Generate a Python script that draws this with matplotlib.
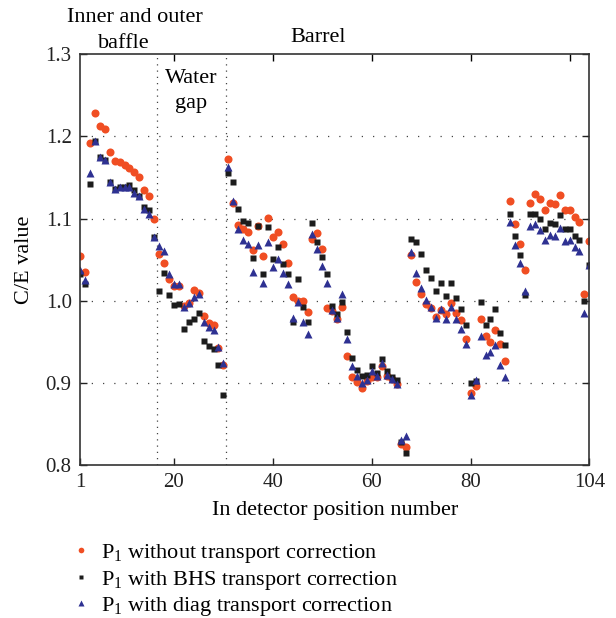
import numpy as np
import matplotlib
matplotlib.use('Agg')
import matplotlib.pyplot as plt

plt.rcParams['font.family'] = ['Liberation Serif', 'DejaVu Serif']
plt.rcParams['mathtext.fontset'] = 'custom'
plt.rcParams['mathtext.rm'] = 'Liberation Serif'

# detector position 1..104
pos = np.arange(1, 105)

# P1 without transport correction
c_e_none = [1.054, 1.035, 1.192, 1.228, 1.213, 1.209, 1.181, 1.170, 1.169, 1.165,
            1.162, 1.157, 1.151, 1.135, 1.127, 1.100, 1.057, 1.046, 1.027, 1.018,
            1.018, 0.994, 0.997, 1.013, 1.009, 0.981, 0.973, 0.970, 0.943, 0.922,
            1.173, 1.119, 1.092, 1.087, 1.084, 1.062, 1.091, 1.054, 1.101, 1.077,
            1.084, 1.069, 1.046, 1.004, 1.000, 1.000, 0.986, 1.075, 1.083, 1.063,
            0.991, 0.988, 0.978, 0.992, 0.933, 0.907, 0.901, 0.894, 0.902, 0.907,
            0.907, 0.921, 0.908, 0.905, 0.899, 0.826, 0.822, 1.056, 1.023, 1.008,
            0.996, 0.991, 0.980, 0.989, 0.984, 0.997, 0.985, 0.976, 0.953, 0.888,
            0.896, 0.978, 0.957, 0.950, 0.964, 0.947, 0.926, 1.121, 1.094, 1.069,
            1.038, 1.119, 1.130, 1.124, 1.111, 1.119, 1.118, 1.129, 1.111, 1.111,
            1.102, 1.096, 1.008, 1.073]

# P1 with BHS transport correction
c_e_bhs = [1.033, 1.020, 1.142, 1.194, 1.175, 1.171, 1.144, 1.136, 1.138, 1.138,
           1.141, 1.135, 1.127, 1.114, 1.110, 1.078, 1.012, 1.034, 1.007, 0.995,
           0.996, 0.966, 0.974, 0.978, 0.985, 0.951, 0.945, 0.941, 0.922, 0.885,
           1.156, 1.145, 1.112, 1.097, 1.095, 1.052, 1.091, 1.033, 1.090, 1.051,
           1.065, 1.045, 1.033, 0.974, 1.026, 0.992, 0.974, 1.095, 1.072, 1.053,
           1.033, 0.994, 0.984, 0.999, 0.962, 0.930, 0.916, 0.908, 0.910, 0.920,
           0.912, 0.929, 0.914, 0.907, 0.903, 0.828, 0.815, 1.075, 1.071, 1.057,
           1.038, 1.028, 1.012, 1.021, 1.006, 1.021, 1.003, 0.990, 0.970, 0.900,
           0.902, 0.999, 0.971, 0.978, 0.990, 0.961, 0.946, 1.106, 1.079, 1.056,
           1.007, 1.105, 1.106, 1.099, 1.087, 1.095, 1.093, 1.104, 1.087, 1.087,
           1.079, 1.074, 1.000, 1.043]

# P1 with diag transport correction
c_e_diag = [1.037, 1.025, 1.156, 1.194, 1.175, 1.171, 1.144, 1.136, 1.138, 1.138,
            1.139, 1.131, 1.127, 1.112, 1.106, 1.077, 1.067, 1.060, 1.033, 1.020,
            1.020, 0.992, 0.997, 1.004, 1.008, 0.974, 0.968, 0.964, 0.944, 0.924,
            1.163, 1.121, 1.087, 1.074, 1.069, 1.035, 1.068, 1.021, 1.072, 1.041,
            1.051, 1.034, 1.020, 0.979, 0.999, 0.974, 0.959, 1.081, 1.063, 1.042,
            1.021, 0.989, 0.979, 1.008, 0.953, 0.920, 0.908, 0.900, 0.904, 0.914,
            0.908, 0.924, 0.910, 0.905, 0.899, 0.831, 0.835, 1.059, 1.034, 1.016,
            1.001, 0.992, 0.979, 0.990, 0.978, 0.992, 0.978, 0.966, 0.947, 0.885,
            0.904, 0.957, 0.934, 0.937, 0.946, 0.922, 0.907, 1.096, 1.068, 1.046,
            1.012, 1.091, 1.093, 1.086, 1.074, 1.080, 1.079, 1.089, 1.073, 1.074,
            1.065, 1.061, 0.985, 1.043]

labels = [r'$\mathregular{P_1}$ without transport correction',
          r'$\mathregular{P_1}$ with BHS transport correction',
          r'$\mathregular{P_1}$ with diag transport correction']

fig = plt.figure(figsize=(6.16, 6.18), dpi=100)
ax = fig.add_axes([0.1299, 0.2476, 0.8269, 0.6645])

# grid and region separators
for yv in [0.9, 1.0, 1.1, 1.2]:
    ax.axhline(yv, color='#444444', lw=0.9, ls=(0, (1, 8)), zorder=0)
for xv in [16.5, 30.5]:
    ax.axvline(xv, color='#444444', lw=0.9, ls=(0, (1, 4)), zorder=0)

h1, = ax.plot(pos, c_e_none, 'o', color='#f04e23', ms=5.8, mec='none', label=labels[0])
h2, = ax.plot(pos, c_e_bhs, 's', color='#1c1c1c', ms=5.0, mec='none', label=labels[1])
h3, = ax.plot(pos, c_e_diag, '^', color='#2e3192', ms=6.2, mec='none', label=labels[2])

ax.set_xlim(1, 104)
ax.set_ylim(0.8, 1.3)
ax.set_xticks([1, 20, 40, 60, 80, 104])
ax.set_yticks([0.8, 0.9, 1.0, 1.1, 1.2, 1.3])
ax.set_yticklabels(['0.8', '0.9', '1.0', '1.1', '1.2', '1.3'])
ax.tick_params(direction='in', length=5, width=1, labelsize=15, right=True,
               colors='#222222', pad=6)
top = ax.secondary_xaxis('top')
top.set_xticks([20, 40, 60, 80, 100])
top.tick_params(direction='in', length=5, width=1, labeltop=False)
top.spines['top'].set_visible(False)
for sp in ax.spines.values():
    sp.set_linewidth(1.2)
    sp.set_color('#333333')

ax.set_xlabel('In detector position number', fontsize=16, labelpad=6)
ax.set_ylabel('C/E value', fontsize=16, labelpad=8)

# region annotations
fig.text(135 / 616, 1 - 17 / 618, 'Inner and outer', ha='center', va='center', fontsize=16)
fig.text(124 / 616, 1 - 43 / 618, 'baffle', ha='center', va='center', fontsize=16)
fig.text(318 / 616, 1 - 38 / 618, 'Barrel', ha='center', va='center', fontsize=16)
ax.text(23.5, 1.270, 'Water', ha='center', va='center', fontsize=16)
ax.text(23.5, 1.240, 'gap', ha='center', va='center', fontsize=16)

fig.legend(handles=[h1, h2, h3], loc='center left', bbox_to_anchor=(71 / 616, 1 - 580 / 618),
           frameon=False, fontsize=16, handlelength=0.9, handletextpad=0.45,
           labelspacing=0.17, borderpad=0, borderaxespad=0, markerscale=0.7)

plt.savefig('out.png', dpi=100)
